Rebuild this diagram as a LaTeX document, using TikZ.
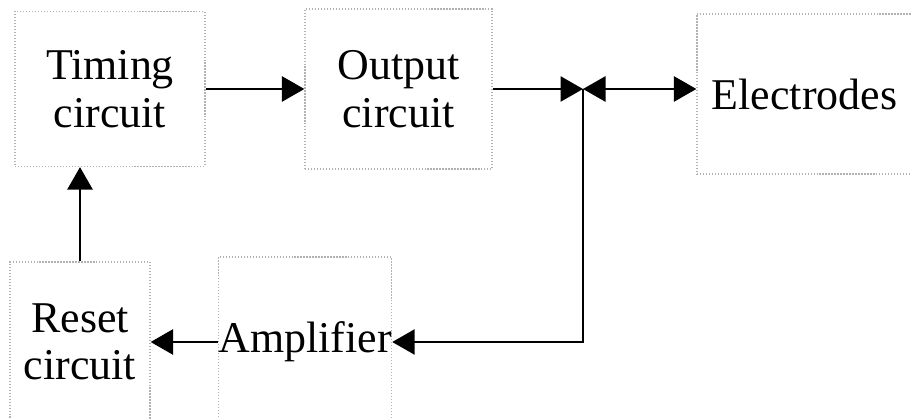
\documentclass[tikz,border=0pt]{standalone}
\usepackage{fontspec}
\setmainfont{Liberation Serif}
\usepackage{tikz}
\usetikzlibrary{arrows.meta,positioning,calc}

\begin{document}
\begin{tikzpicture}[
 font=\fontsize{25}{27}\selectfont,
 blk/.style={draw=black!30,densely dotted,line width=0.7pt,align=center,inner sep=0pt},
 arr/.style={-{Triangle[length=4.5mm,width=5mm]},line width=1.6pt},
 darr/.style={{Triangle[length=4.5mm,width=5mm]}-{Triangle[length=4.5mm,width=5mm]},line width=1.6pt}
]
\useasboundingbox (0,0) rectangle (18.22,8.38);
\node[blk,minimum width=3.8cm,minimum height=3.1cm] (tim) at (2.2,6.6) {Timing\\circuit};
\node[blk,minimum width=3.74cm,minimum height=3.2cm] (out) at (7.97,6.6) {Output\\circuit};
\node[blk,minimum width=4.3cm,minimum height=3.2cm] (ele) at (16.09,6.5) {Electrodes};
\node[blk,minimum width=2.8cm,minimum height=3.2cm] (res) at (1.6,1.54) {Reset\\circuit};
\node[blk,minimum width=3.1cm,minimum height=3.4cm] (amp) at (6.1,1.54) {Amplifier};
\coordinate (jn) at (11.66,6.6);

\draw[arr] (tim)--(out);
\draw[arr] (out)--(jn);
\draw[darr] (jn)--(jn -| ele.west);
\draw[arr] (jn) |- (amp);
\draw[arr] (amp)--(res);
\draw[arr] (res.north)--(res.north |- tim.south);
\end{tikzpicture}
\end{document}
